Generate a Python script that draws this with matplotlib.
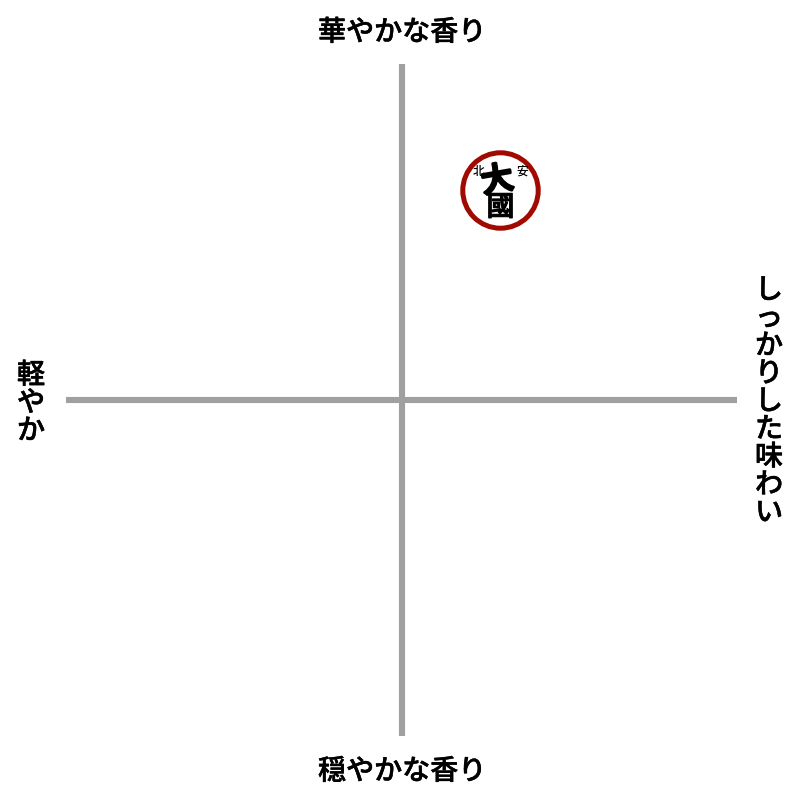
import matplotlib
matplotlib.use("Agg")
import matplotlib.pyplot as plt
import matplotlib.patheffects as pe

plt.rcParams["font.family"] = ["Noto Sans CJK JP", "DejaVu Sans"]

# axis labels
label_top = "華やかな香り"
label_bottom = "穏やかな香り"
label_left = "軽やか"
label_right = "しっかりした味わい"

# position of the one product on the map
product_x = [0.295]
product_y = [0.625]

GREY = "#a0a0a0"
RED = "#a00a00"
LABEL_SIZE = 20.2

fig = plt.figure(figsize=(8, 8), dpi=100)
ax = fig.add_axes([66 / 800, 1 - 736 / 800, (737 - 66) / 800, (736 - 64) / 800])
ax.set_xlim(-1, 1)
ax.set_ylim(-1, 1)
ax.axis("off")

ax.axhline(0, color=GREY, lw=4.4, solid_capstyle="butt", zorder=1)
ax.axvline(0, color=GREY, lw=4.4, solid_capstyle="butt", zorder=1)

# logo marker
ax.scatter(product_x, product_y, s=2950, facecolor="white", edgecolor=RED, linewidth=3.6, zorder=3)


def logo_text(s, dx, dy, size, stroke=0.0, rotation=0):
    # offsets in pixels from the marker centre
    t = ax.annotate(s, (product_x[0], product_y[0]), xytext=(dx * 0.72, dy * 0.72),
                    textcoords="offset points", ha="center", va="center", rotation=rotation,
                    fontsize=size, fontweight="medium", color="black", zorder=4)
    if stroke:
        t.set_path_effects([pe.withStroke(linewidth=stroke, foreground="black")])


logo_text("北", -22, 19, 8.5)
logo_text("安", 22, 19, 8.5)
logo_text("大", -3, 9, 23, stroke=2.0, rotation=10)
logo_text("國", 0, -17, 20, stroke=0.8)


def label_outline():
    return [pe.withStroke(linewidth=0.35, foreground="black")]


fig.text(402 / 800, 1 - 32 / 800, label_top, ha="center", va="center", fontsize=LABEL_SIZE,
         fontweight="medium", path_effects=label_outline())
fig.text(402 / 800, 1 - 771 / 800, label_bottom, ha="center", va="center", fontsize=LABEL_SIZE,
         fontweight="medium", path_effects=label_outline())


def vertical_label(s, x_px, top_px):
    # stack the characters one by one, about 27.8 px apart
    for i, ch in enumerate(s):
        fig.text(x_px / 800, 1 - (top_px + 27.8 * i + 13.9) / 800, ch, ha="center", va="center",
                 fontsize=LABEL_SIZE, fontweight="medium", path_effects=label_outline())


vertical_label(label_left, 31, 361)
vertical_label(label_right, 769, 276)

fig.savefig("out.png", dpi=100, facecolor="white")
plt.close(fig)
